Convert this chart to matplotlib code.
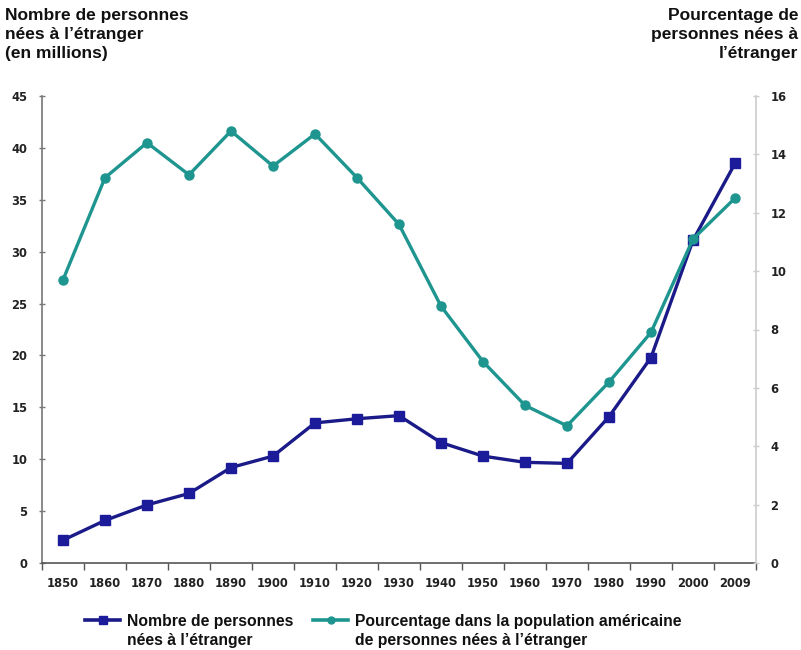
import matplotlib
matplotlib.use("Agg")
import matplotlib.pyplot as plt
from matplotlib.lines import Line2D
import numpy as np

# Data
years = ["1850", "1860", "1870", "1880", "1890", "1900", "1910", "1920", "1930",
         "1940", "1950", "1960", "1970", "1980", "1990", "2000", "2009"]
foreign_born_millions = [2.2, 4.1, 5.6, 6.7, 9.2, 10.3, 13.5, 13.9, 14.2,
                         11.6, 10.3, 9.7, 9.6, 14.1, 19.8, 31.1, 38.5]
foreign_born_pct = [9.7, 13.2, 14.4, 13.3, 14.8, 13.6, 14.7, 13.2, 11.6,
                    8.8, 6.9, 5.4, 4.7, 6.2, 7.9, 11.1, 12.5]
left_ticks = [0, 5, 10, 15, 20, 25, 30, 35, 40, 45]
right_ticks = [0, 2, 4, 6, 8, 10, 12, 14, 16]

navy = "#1c1c9a"
navy_line = "#1a1a88"
teal = "#1e958f"

W, H = 801, 650
fig = plt.figure(figsize=(W / 100, H / 100), dpi=100)
ax = fig.add_axes([42 / W, (H - 563) / H, 714 / W, (563 - 96) / H])
ax2 = ax.twinx()

x = np.arange(len(years))
ax.plot(x, foreign_born_millions, color=navy_line, lw=2.4, marker="s",
        markersize=7.5, markerfacecolor=navy, markeredgecolor=navy, zorder=3)
ax2.plot(x, foreign_born_pct, color=teal, lw=2.4, marker="o",
         markersize=6.5, markerfacecolor=teal, markeredgecolor=teal, zorder=3)

ax.set_xlim(-0.5, len(years) - 0.5)
ax.set_ylim(0, 45)
ax2.set_ylim(0, 16)

tick_font = dict(family="DejaVu Sans", weight="bold", size=8.3)

# x axis: labels at category centres, tick marks on category boundaries
ax.set_xticks(x)
ax.set_xticklabels(years, **tick_font, color="#222222")
ax.tick_params(axis="x", which="major", length=0, pad=10)
ax.set_xticks(np.arange(-0.5, len(years), 1.0), minor=True)
ax.tick_params(axis="x", which="minor", length=5, direction="out",
               color="#555555", width=1)

ax.set_yticks(left_ticks)
ax.set_yticklabels([str(t) for t in left_ticks], **tick_font, color="#222222")
ax.tick_params(axis="y", length=5, direction="inout", color="#777777",
               width=1, pad=8)

ax2.set_yticks(right_ticks)
ax2.set_yticklabels([str(t) for t in right_ticks], **tick_font, color="#222222")
ax2.tick_params(axis="y", length=5, direction="inout", color="#cccccc",
                width=1, pad=8)

for a in (ax, ax2):
    a.spines["top"].set_visible(False)
ax.spines["left"].set_color("#777777")
ax.spines["bottom"].set_color("#555555")
ax.spines["right"].set_visible(False)
ax2.spines["left"].set_visible(False)
ax2.spines["bottom"].set_visible(False)
ax2.spines["right"].set_color("#cccccc")
for s in ("left", "bottom"):
    ax.spines[s].set_linewidth(1.2)
ax2.spines["right"].set_linewidth(1.2)

# Axis titles above the plot
head_font = dict(family="Liberation Sans", weight="bold", size=12.5,
                 color="#111111", linespacing=1.32)
fig.text(5 / W, 1 - 8 / H, "Nombre de personnes\nnées à l’étranger\n(en millions)",
         ha="left", va="top", **head_font)
fig.text(798 / W, 1 - 8 / H, "Pourcentage de\npersonnes nées à\nl’étranger",
         ha="right", va="top", multialignment="right", **head_font)

# Legend below the plot
leg_font = dict(family="Liberation Sans", weight="bold", size=11.3,
                color="#111111", linespacing=1.32)
fig.add_artist(Line2D([85 / W, 120 / W], [1 - 620 / H, 1 - 620 / H],
                      transform=fig.transFigure, color=navy_line, lw=2.6))
fig.add_artist(Line2D([102.5 / W], [1 - 620 / H], transform=fig.transFigure,
                      ls="none", marker="s", markersize=6,
                      markerfacecolor=navy, markeredgecolor=navy))
fig.text(127 / W, 1 - 614 / H, "Nombre de personnes\nnées à l’étranger",
         ha="left", va="top", **leg_font)
fig.add_artist(Line2D([313 / W, 348 / W], [1 - 620 / H, 1 - 620 / H],
                      transform=fig.transFigure, color=teal, lw=2.6))
fig.add_artist(Line2D([330.5 / W], [1 - 620 / H], transform=fig.transFigure,
                      ls="none", marker="o", markersize=5,
                      markerfacecolor=teal, markeredgecolor=teal))
fig.text(355 / W, 1 - 614 / H,
         "Pourcentage dans la population américaine\nde personnes nées à l’étranger",
         ha="left", va="top", **leg_font)

fig.savefig("out.png", dpi=100)
